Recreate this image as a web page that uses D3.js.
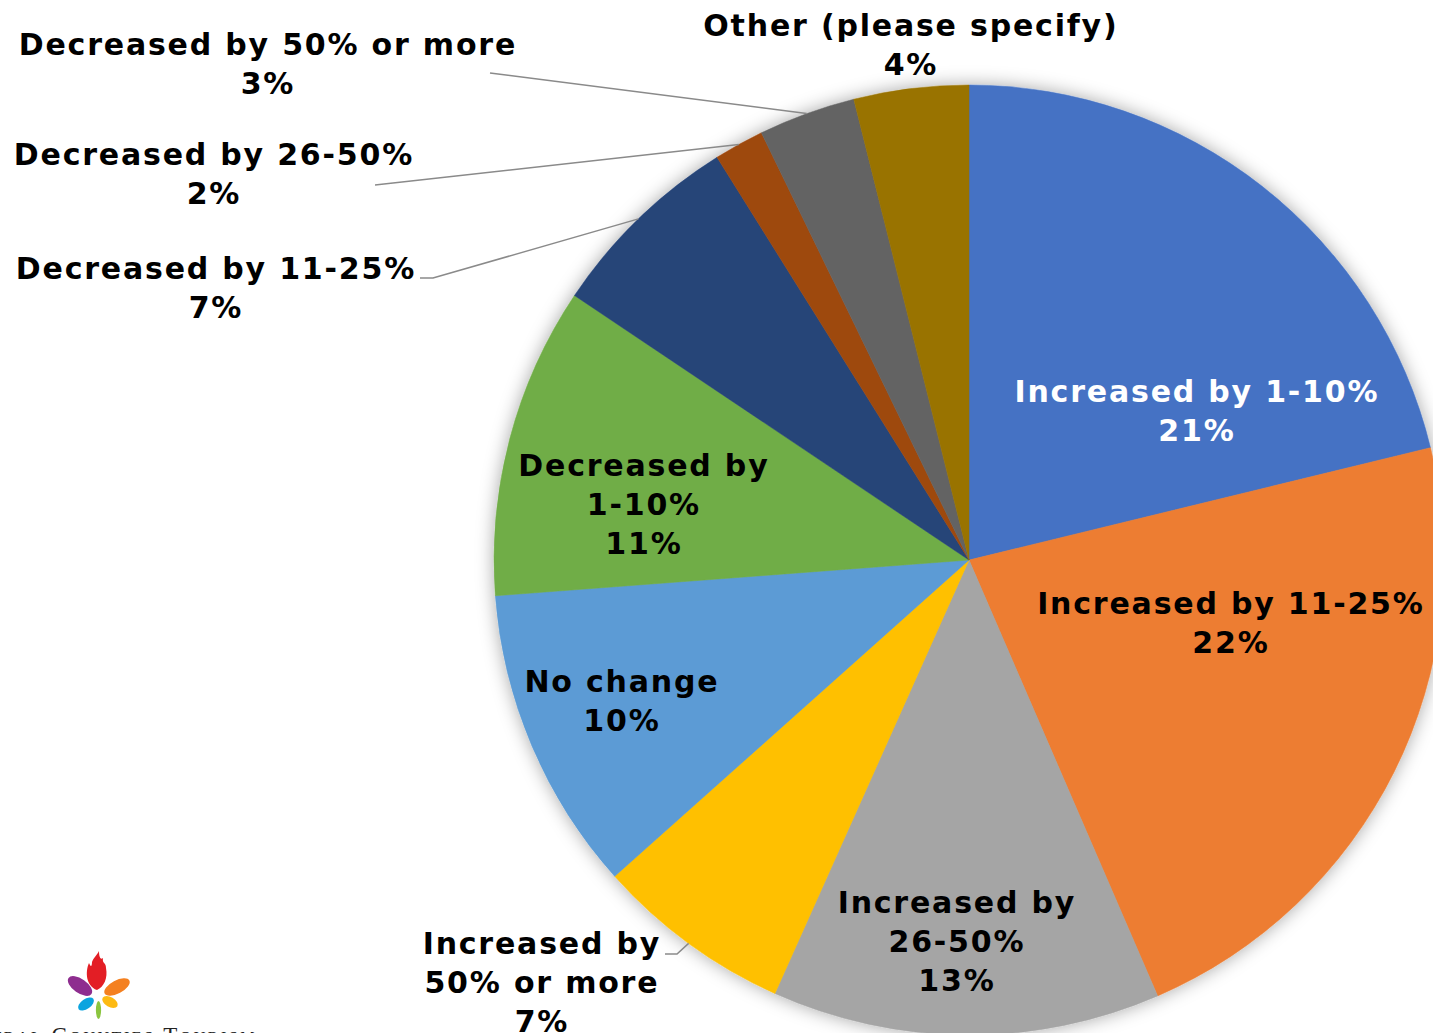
<!DOCTYPE html>
<html>
<head>
<meta charset="utf-8">
<script src="https://cdn.jsdelivr.net/npm/d3@7/dist/d3.min.js"></script>
<style>
  html, body { margin: 0; padding: 0; background: #fff; overflow: hidden; }
  svg { display: block; }
</style>
</head>
<body>
<svg id="chart" width="1433" height="1033"></svg>
<script>
// ---- data ----
const categories = [
  "Increased by 1-10%",
  "Increased by 11-25%",
  "Increased by 26-50%",
  "Increased by 50% or more",
  "No change",
  "Decreased by 1-10%",
  "Decreased by 11-25%",
  "Decreased by 26-50%",
  "Decreased by 50% or more",
  "Other (please specify)"
];
const shares = [21.2, 22.3, 13.2, 6.7, 10.4, 10.6, 6.7, 1.7, 3.3, 3.9];
const colors = ["#4472C4", "#ED7D31", "#A5A5A5", "#FFC000", "#5B9BD5",
                "#70AD47", "#264478", "#9E480E", "#636363", "#997300"];
// label text lines (category text broken as in the chart)
const labelLines = [
  ["Increased by 1-10%"],
  ["Increased by 11-25%"],
  ["Increased by", "26-50%"],
  ["Increased by", "50% or more"],
  ["No change"],
  ["Decreased by", "1-10%"],
  ["Decreased by 11-25%"],
  ["Decreased by 26-50%"],
  ["Decreased by 50% or more"],
  ["Other (please specify)"]
];

// ---- layout (not data) ----
const W = 1433, H = 1033;
const cx = 969, cy = 560, R = 475;
const fontSize = 30, lineH = 39, tracking = 1.8;
// label block centres and leader-line start points
const labelLayout = [
  { x: 1196, y: 410, color: "#fff" },
  { x: 1230, y: 622, color: "#000" },
  { x: 956,  y: 941, color: "#000" },
  { x: 541,  y: 982, color: "#000", leader: [[665, 954], [677, 954]] },
  { x: 621,  y: 700, color: "#000" },
  { x: 643,  y: 504, color: "#000" },
  { x: 215,  y: 287, color: "#000", leader: [[420, 278], [433, 278]] },
  { x: 213,  y: 173, color: "#000", leader: [[375, 185]] },
  { x: 267,  y: 63,  color: "#000", leader: [[490, 73]] },
  { x: 910,  y: 44,  color: "#000" }
];

const svg = d3.select("#chart");
const defs = svg.append("defs");
const f = defs.append("filter").attr("id", "glow")
  .attr("x", "-10%").attr("y", "-10%").attr("width", "120%").attr("height", "120%");
f.append("feGaussianBlur").attr("in", "SourceAlpha").attr("stdDeviation", 9).attr("result", "b");
f.append("feFlood").attr("flood-color", "#000").attr("flood-opacity", 0.35).attr("result", "c");
f.append("feComposite").attr("in", "c").attr("in2", "b").attr("operator", "in").attr("result", "s");
const fm = f.append("feMerge");
fm.append("feMergeNode").attr("in", "s");
fm.append("feMergeNode").attr("in", "SourceGraphic");

const data = categories.map((c, i) => ({ cat: c, value: shares[i], i }));
const total = d3.sum(shares);
const pie = d3.pie().value(d => d.value).sort(null).startAngle(0).endAngle(2 * Math.PI);
const arcs = pie(data);
const arc = d3.arc().innerRadius(0).outerRadius(R);
const edgeArc = d3.arc().innerRadius(R).outerRadius(R);

const g = svg.append("g").attr("transform", `translate(${cx},${cy})`);
g.append("g").attr("filter", "url(#glow)")
  .selectAll("path").data(arcs).join("path")
  .attr("d", arc)
  .attr("fill", d => colors[d.data.i])
  .attr("stroke", d => colors[d.data.i])
  .attr("stroke-width", 0.5);

// leader lines
const leaders = svg.append("g");
arcs.forEach(d => {
  const L = labelLayout[d.data.i];
  if (!L.leader) return;
  const [ex, ey] = edgeArc.centroid(d);
  const pts = L.leader.concat([[cx + ex, cy + ey]]);
  leaders.append("path")
    .attr("d", d3.line()(pts))
    .attr("fill", "none")
    .attr("stroke", "#8a8a8a")
    .attr("stroke-width", 1.5);
});

// labels
const fmt = v => Math.round(v / total * 100) + "%";
const labels = svg.append("g")
  .attr("font-family", "'DejaVu Sans', Verdana, sans-serif")
  .attr("font-weight", "bold")
  .attr("font-size", fontSize)
  .attr("letter-spacing", tracking)
  .attr("text-anchor", "middle");
arcs.forEach(d => {
  const i = d.data.i;
  const L = labelLayout[i];
  const lines = labelLines[i].concat([fmt(d.data.value)]);
  const n = lines.length;
  const t = labels.append("text").attr("fill", L.color);
  lines.forEach((s, k) => {
    const yc = L.y + (k - (n - 1) / 2) * lineH;
    t.append("tspan").attr("x", L.x + tracking / 2).attr("y", yc + 11).text(s);
  });
});

// logo (bottom-left)
const logo = svg.append("g");
const petal = (x, y, rx, ry, rot, col) =>
  logo.append("ellipse").attr("cx", x).attr("cy", y).attr("rx", rx).attr("ry", ry)
    .attr("transform", `rotate(${rot},${x},${y})`).attr("fill", col);
logo.append("path")
  .attr("d", "M97,990 C86,986 85,972 89,963 C91,968 92,966 92,962 C94,957 97,955 99,951 C99,958 101,960 103,958 C102,964 106,962 106,968 C108,978 104,987 97,990 Z")
  .attr("fill", "#E31E25");
petal(80, 986, 14, 7, 35, "#8E2D8F");
petal(117, 987, 14, 6.5, -28, "#F48020");
petal(86, 1004, 9, 5, -35, "#0AA4DF");
petal(110, 1002, 8.5, 5, 30, "#FDBA13");
petal(98.5, 1010, 2.6, 9, 0, "#8BC53F");
svg.append("text")
  .attr("x", 257).attr("y", 1043)
  .attr("text-anchor", "end")
  .attr("font-family", "'Liberation Serif', serif")
  .attr("font-size", 23)
  .attr("font-variant", "small-caps")
  .attr("letter-spacing", 2.5)
  .attr("fill", "#222")
  .text("Central Counties Tourism");
</script>
</body>
</html>
